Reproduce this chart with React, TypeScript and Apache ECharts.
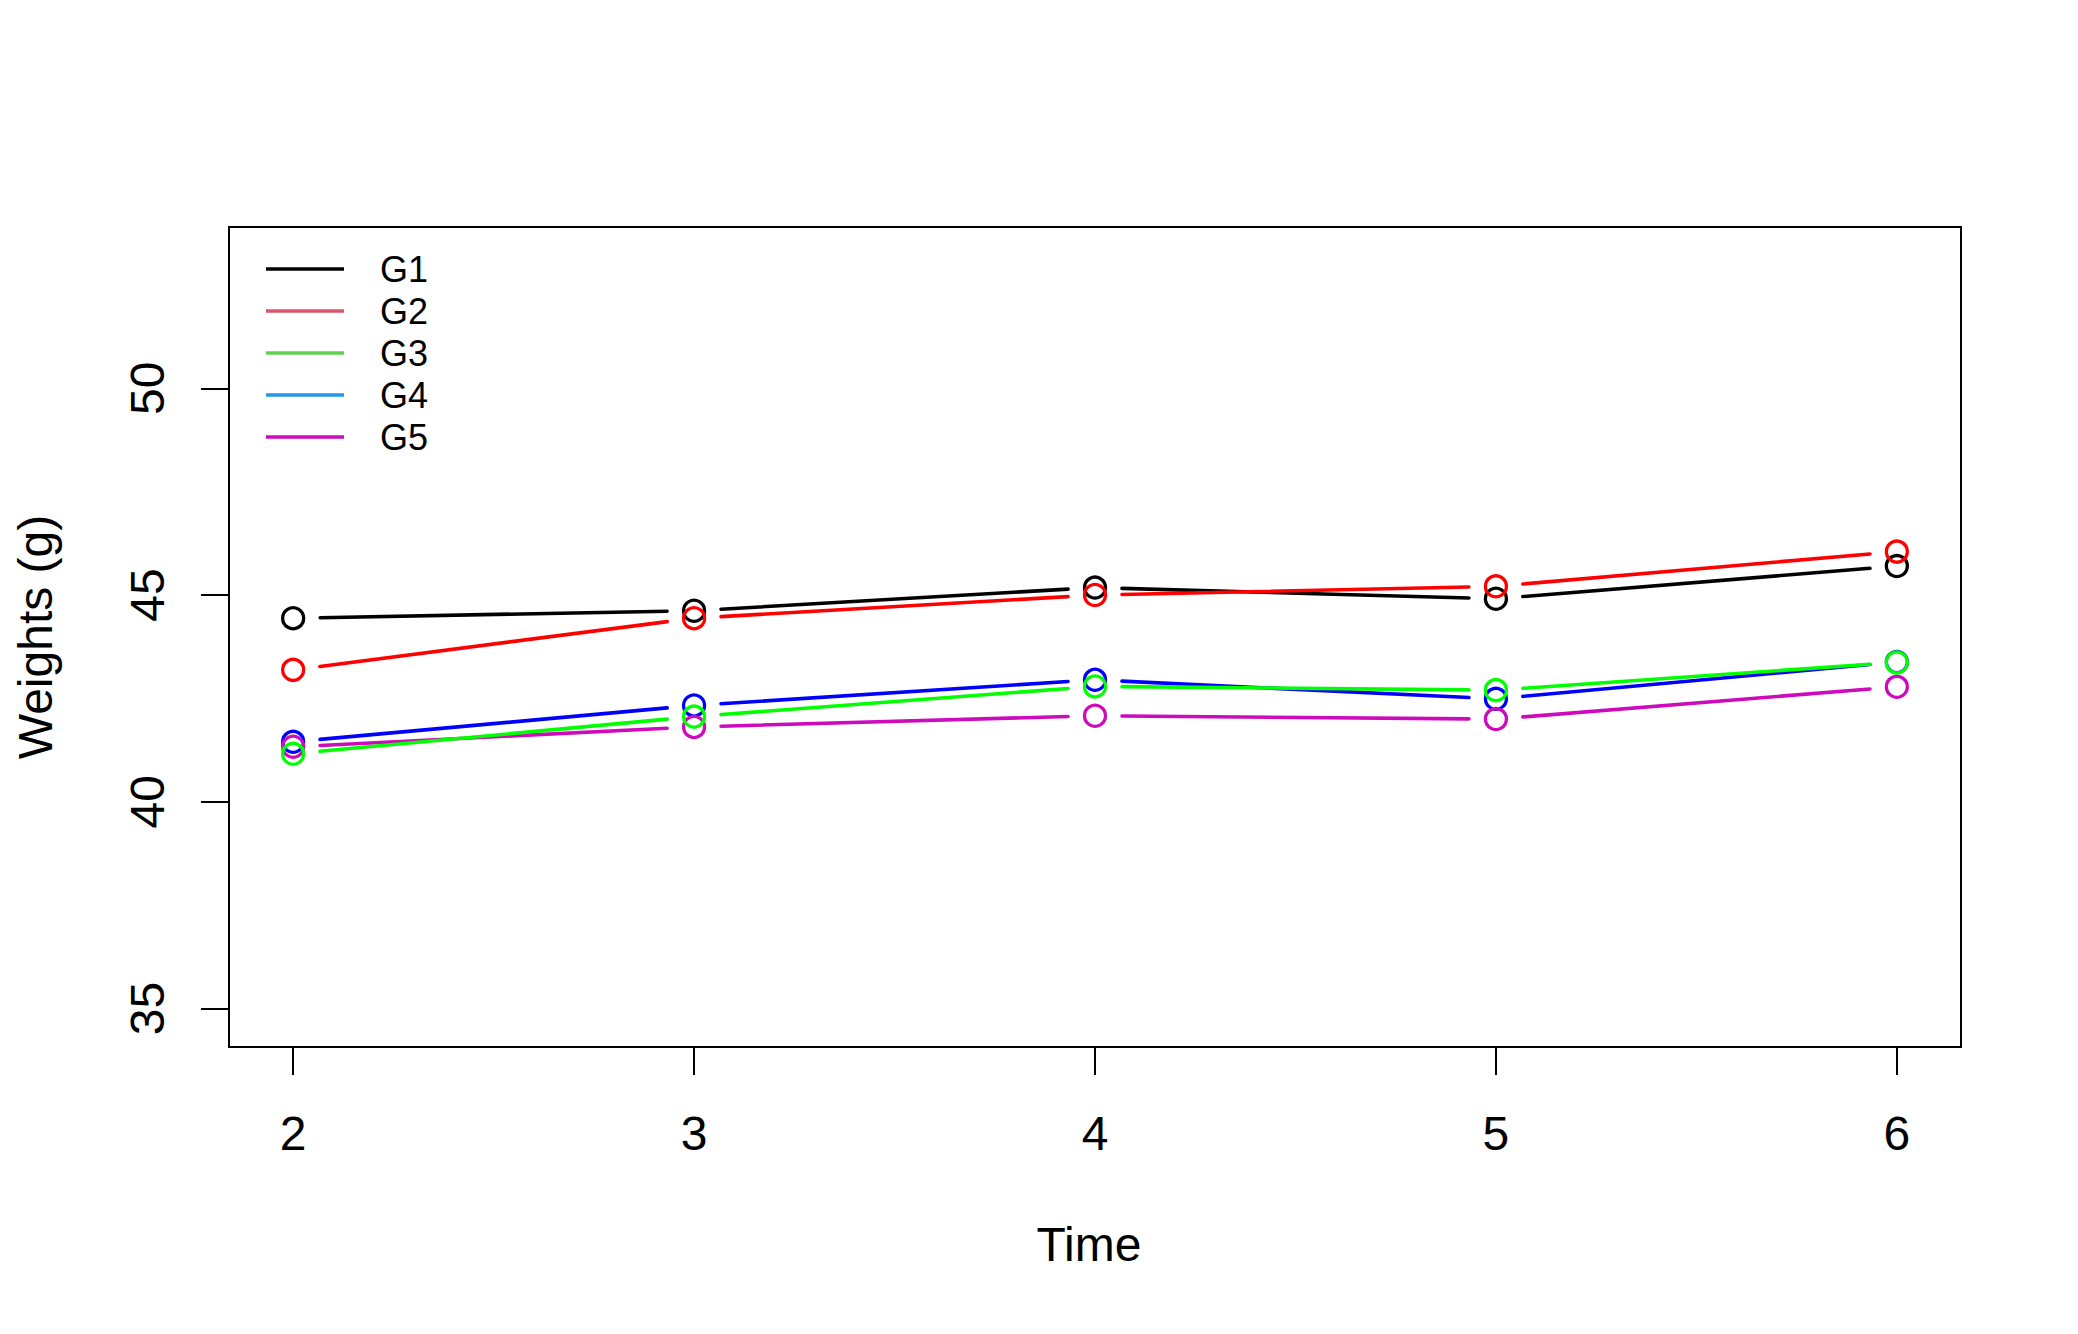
import React, { useEffect, useRef } from "react";
import * as echarts from "echarts";

const times = [2, 3, 4, 5, 6];
const groupNames = ["G1", "G2", "G3", "G4", "G5"];
const g1 = [44.44, 44.62, 45.18, 44.91, 45.7];
const g2 = [43.19, 44.44, 45.0, 45.21, 46.05];
const g3 = [41.16, 42.06, 42.79, 42.7, 43.37];
const g4 = [41.45, 42.33, 42.95, 42.49, 43.38];
const g5 = [41.33, 41.81, 42.08, 42.0, 42.78];
const lineColors = ["#000000", "#FF0000", "#00FF00", "#0000FF", "#CD0BBC"];
const legendColors = ["#000000", "#DF536B", "#61D04F", "#2297E6", "#CD0BBC"];
const xTicks = [2, 3, 4, 5, 6];
const yTicks = [35, 40, 45, 50];

const FONT = "'Liberation Sans', Arial, Helvetica, sans-serif";

export default function App() {
  const ref = useRef<HTMLDivElement>(null);

  useEffect(() => {
    const chart = echarts.init(ref.current as HTMLDivElement, null, { renderer: "svg" });
    const groups = [g1, g2, g3, g4, g5];
    const series: any[] = [];
    groups.forEach((vals, i) => {
      const segs: number[][] = [];
      for (let k = 0; k < times.length - 1; k++) {
        segs.push([times[k], vals[k], times[k + 1], vals[k + 1]]);
      }
      const z = i === 2 ? 3 : 2;
      series.push({
        type: "custom",
        name: groupNames[i],
        data: segs,
        z,
        encode: { x: [0, 2], y: [1, 3] },
        silent: true,
        renderItem: (params: any, api: any) => {
          const p1 = api.coord([api.value(0), api.value(1)]);
          const p2 = api.coord([api.value(2), api.value(3)]);
          const dx = p2[0] - p1[0];
          const dy = p2[1] - p1[1];
          const len = Math.hypot(dx, dy);
          const gap = 27;
          if (len <= 2 * gap) return null;
          const ux = dx / len;
          const uy = dy / len;
          return {
            type: "line",
            shape: {
              x1: p1[0] + ux * gap,
              y1: p1[1] + uy * gap,
              x2: p2[0] - ux * gap,
              y2: p2[1] - uy * gap,
            },
            style: { stroke: lineColors[i], lineWidth: 3.6, lineCap: "round" },
          };
        },
      });
      series.push({
        type: "scatter",
        name: groupNames[i],
        data: times.map((t, k) => [t, vals[k]]),
        z,
        symbol: "circle",
        symbolSize: 21,
        silent: true,
        itemStyle: { color: "rgba(0,0,0,0)", borderColor: lineColors[i], borderWidth: 3.3, opacity: 1 },
      });
    });

    chart.setOption({
      animation: false,
      backgroundColor: "#ffffff",
      textStyle: { fontFamily: FONT },
      grid: {
        left: 229,
        top: 227,
        width: 1732,
        height: 820,
        show: true,
        borderColor: "#000",
        borderWidth: 2,
        backgroundColor: "transparent",
      },
      legend: {
        orient: "vertical",
        left: 266,
        top: 248,
        padding: 0,
        itemGap: 0,
        itemWidth: 78,
        itemHeight: 3.4,
        selectedMode: false,
        data: groupNames.map((n, i) => ({
          name: n,
          icon: "rect",
          itemStyle: { color: legendColors[i], borderWidth: 0, borderColor: legendColors[i], opacity: 1 },
        })),
        textStyle: {
          fontFamily: FONT,
          fontSize: 36,
          color: "#000",
          lineHeight: 42,
          padding: [0, 0, 0, 31],
        },
      },
      xAxis: {
        type: "value",
        min: 1.84,
        max: 6.16,
        axisLine: { show: false },
        splitLine: { show: false },
        axisTick: {
          show: true,
          customValues: xTicks,
          length: 28,
          lineStyle: { color: "#000", width: 2 },
        },
        axisLabel: {
          customValues: xTicks,
          fontSize: 48,
          color: "#000",
          fontFamily: FONT,
          margin: 62,
        },
        name: "Time",
        nameLocation: "middle",
        nameGap: 173,
        nameTextStyle: { fontSize: 48, color: "#000", fontFamily: FONT, padding: [0, 12, 0, 0] },
      },
      yAxis: {
        type: "value",
        min: 34.07,
        max: 53.9,
        axisLine: { show: false },
        splitLine: { show: false },
        axisTick: {
          show: true,
          customValues: yTicks,
          length: 28,
          lineStyle: { color: "#000", width: 2 },
        },
        axisLabel: {
          customValues: yTicks,
          fontSize: 48,
          color: "#000",
          fontFamily: FONT,
          rotate: 90,
          margin: 58,
        },
        name: "Weights (g)",
        nameLocation: "middle",
        nameGap: 170,
        nameTextStyle: { fontSize: 48, color: "#000", fontFamily: FONT },
      },
      series,
    });

    return () => {
      chart.dispose();
    };
  }, []);

  return (
    <div
      ref={ref}
      style={{ position: "fixed", left: 0, top: 0, width: 2078, height: 1334, background: "#fff" }}
    />
  );
}
